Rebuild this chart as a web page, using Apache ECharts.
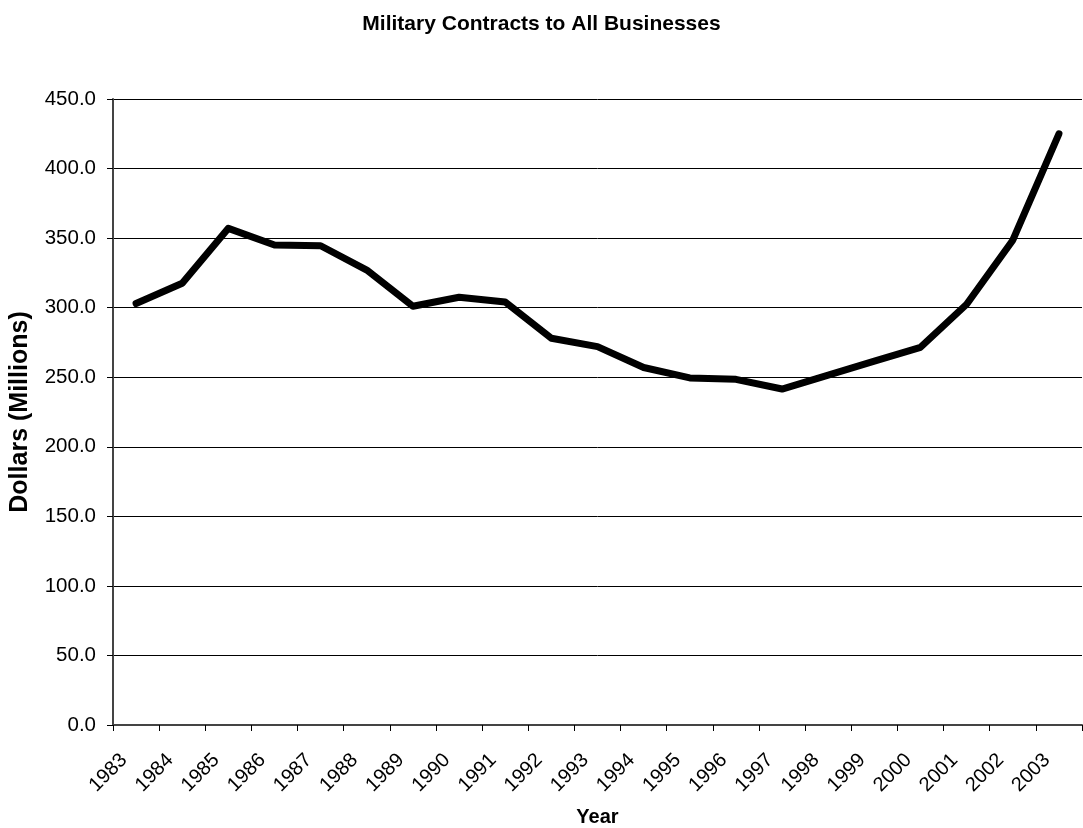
<!DOCTYPE html>
<html>
<head>
<meta charset="utf-8">
<script src="https://cdn.jsdelivr.net/npm/echarts@6/dist/echarts.min.js"></script>
<style>
html,body{margin:0;padding:0;background:#fff;}
#chart{width:1083px;height:828px;}
</style>
</head>
<body>
<div id="chart"></div>
<script>
const years = ['1983','1984','1985','1986','1987','1988','1989','1990','1991','1992','1993','1994','1995','1996','1997','1998','1999','2000','2001','2002','2003'];
const contracts = [303.0, 317.5, 357.0, 345.0, 344.5, 327.0, 301.0, 307.5, 304.0, 278.0, 272.0, 257.0, 249.5, 248.5, 241.5, 251.5, 261.5, 271.5, 302.5, 348.5, 425.0];
const yTicks = {min: 0, max: 450, interval: 50};

const chart = echarts.init(document.getElementById('chart'), null, {renderer: 'canvas'});
const font = 'Liberation Sans, Arial, sans-serif';
chart.setOption({
  animation: false,
  title: {
    text: 'Military Contracts to All Businesses',
    left: 'center', top: 9,
    textStyle: {fontFamily: font, fontSize: 21, fontWeight: 'bold', color: '#000'}
  },
  grid: {left: 113, right: 1, top: 99, bottom: 103, containLabel: false, outerBoundsMode: 'none'},
  xAxis: {
    type: 'category',
    data: years,
    boundaryGap: true,
    name: 'Year',
    nameLocation: 'middle',
    nameGap: 82,
    nameMoveOverlap: false,
    nameTextStyle: {fontFamily: font, fontSize: 20, fontWeight: 'bold', color: '#000'},
    axisLine: {lineStyle: {color: '#444', width: 2}},
    axisTick: {show: true, length: 6, lineStyle: {color: '#000', width: 1}},
    axisLabel: {rotate: 45, margin: 20, fontFamily: font, fontSize: 20, color: '#000', interval: 0,
      padding: [0, 17, 0, 0]}
  },
  yAxis: {
    type: 'value',
    min: yTicks.min, max: yTicks.max, interval: yTicks.interval,
    name: 'Dollars (Millions)',
    nameLocation: 'middle',
    nameGap: 80,
    nameMoveOverlap: false,
    nameTextStyle: {fontFamily: font, fontSize: 25, fontWeight: 'bold', color: '#000'},
    axisLine: {show: true, lineStyle: {color: '#444', width: 2}},
    axisTick: {show: true, length: 6, lineStyle: {color: '#000', width: 1}},
    axisLabel: {margin: 17, fontFamily: font, fontSize: 20.5, color: '#000',
      formatter: v => v.toFixed(1)},
    splitLine: {show: true, lineStyle: {color: '#000', width: 1}}
  },
  series: [{
    type: 'line',
    data: contracts,
    showSymbol: false,
    symbol: 'none',
    lineStyle: {color: '#000', width: 7, cap: 'round', join: 'round'}
  }]
});
</script>
</body>
</html>
